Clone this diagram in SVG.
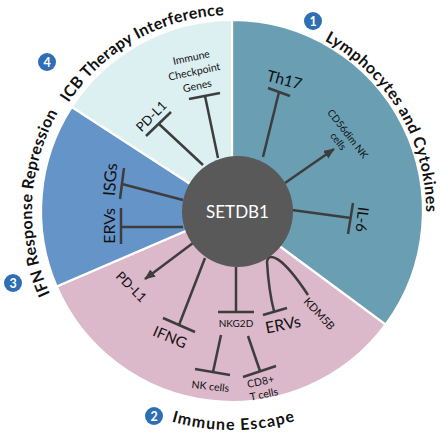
<svg xmlns="http://www.w3.org/2000/svg" width="441" height="433" viewBox="0 0 441 433">
<style>
.sec{stroke:#fff;stroke-width:2.2}
.lbl{font-family:Lato,"Open Sans","Liberation Sans",sans-serif;fill:#111}
.ttl{font-family:Lato,"Open Sans","Liberation Sans",sans-serif;font-weight:bold;font-size:16px;fill:#111}
.num{font-family:Lato,"Open Sans","Liberation Sans",sans-serif;font-weight:bold;font-size:12.5px;fill:#fff}
.badge{fill:#2e6eb5}
</style>
<defs>
<marker id="arrow" markerUnits="userSpaceOnUse" markerWidth="12" markerHeight="10" refX="10" refY="4.5" orient="auto">
<path d="M0,0 L11,4.5 L0,9 Z" fill="#3d3d3d"/>
</marker>
<path id="pLym" d="M324.6,40.5 A194,194 0 0 1 426.0,214.4"/>
<path id="pICB" d="M68.6,102.8 A196,196 0 0 1 225.2,15.1"/>
<path id="pIFN" d="M50.0,293.9 A200,200 0 0 1 58.8,111.0"/>
<path id="pEsc" d="M171.6,421.5 A219,219 0 0 0 297.9,419.9"/>
</defs>
<rect width="441" height="433" fill="#fff"/>
<g id="sectors">
<path id="sector-lymphocytes" class="sec" fill="#6a9eb3" d="M232,211 L232,20 A191,191 0 0 1 385.5,324.6 Z"/>
<path id="sector-escape" class="sec" fill="#dbb8ca" d="M232,211 L385.5,324.6 A191,191 0 0 1 56.6,286.5 Z"/>
<path id="sector-ifn" class="sec" fill="#6594c9" d="M232,211 L56.6,286.5 A191,191 0 0 1 71.8,107 Z"/>
<path id="sector-icb" class="sec" fill="#dceff1" d="M232,211 L71.8,107 A191,191 0 0 1 232,20 Z"/>
</g>
<g id="titles">
<g id="title-1"><circle class="badge" cx="313" cy="21" r="9"/><text class="num" x="313" y="25.5" text-anchor="middle">1</text>
<text class="ttl"><textPath href="#pLym" textLength="209" lengthAdjust="spacing">Lymphocytes and Cytokines</textPath></text></g>
<g id="title-2"><circle class="badge" cx="154" cy="416" r="9"/><text class="num" x="154" y="420.5" text-anchor="middle">2</text>
<text class="ttl"><textPath href="#pEsc" textLength="125" lengthAdjust="spacing">Immune Escape</textPath></text></g>
<g id="title-3"><circle class="badge" cx="13" cy="283" r="9"/><text class="num" x="13" y="287.5" text-anchor="middle">3</text>
<text class="ttl"><textPath href="#pIFN" textLength="188" lengthAdjust="spacing">IFN Response Repression</textPath></text></g>
<g id="title-4"><circle class="badge" cx="47" cy="62" r="9"/><text class="num" x="47" y="66.5" text-anchor="middle">4</text>
<text class="ttl"><textPath href="#pICB" textLength="185" lengthAdjust="spacing">ICB Therapy Interference</textPath></text></g>
</g>
<g id="connectors" stroke="#3d3d3d" stroke-width="2.5" fill="none">
<line x1="263" y1="157" x2="279" y2="92"/><line x1="268" y1="88" x2="290" y2="96"/>
<line x1="285" y1="183" x2="334" y2="149" marker-end="url(#arrow)"/>
<line x1="292" y1="210" x2="351" y2="218"/><line x1="353" y1="203" x2="348" y2="234"/>
<path d="M267,262 C268,252 281,254 308,295"/>
<path d="M267,262 C268,278 270,296 274,311"/><line x1="263" y1="315" x2="287" y2="308"/>
<line x1="236" y1="267" x2="236" y2="312"/><line x1="218" y1="312" x2="254" y2="312"/>
<line x1="221" y1="335" x2="213" y2="372"/><line x1="195" y1="369" x2="230" y2="375"/>
<line x1="248" y1="336" x2="260" y2="371"/><line x1="243" y1="377" x2="276" y2="366"/>
<line x1="205" y1="258" x2="179" y2="325"/><line x1="163" y1="318" x2="195" y2="332"/>
<line x1="193" y1="243" x2="145" y2="279" marker-end="url(#arrow)"/>
<line x1="183" y1="227" x2="121" y2="227"/><line x1="121" y1="208" x2="121" y2="244"/>
<line x1="183" y1="200" x2="122" y2="184"/><line x1="124" y1="168" x2="120" y2="199"/>
<line x1="203" y1="165" x2="159" y2="124"/><line x1="146" y1="136" x2="171" y2="112"/>
<line x1="218" y1="158" x2="205" y2="96"/><line x1="189" y1="99" x2="220" y2="93"/>
</g>
<g id="node-setdb1"><circle cx="237.5" cy="211.5" r="55.5" fill="#595959"/>
<text class="lbl" x="237.5" y="217.5" text-anchor="middle" font-size="17" style="fill:#fff">SETDB1</text></g>
<g id="node-th17"><text class="lbl" font-size="15.5" text-anchor="middle" transform="translate(283,85) rotate(15)">Th17</text></g>
<g id="node-cd56"><text class="lbl" font-size="10" text-anchor="middle" transform="translate(345,136) rotate(52)"><tspan x="0" y="0">CD56dim NK</tspan><tspan x="0" y="12">cells</tspan></text></g>
<g id="node-il6"><text class="lbl" font-size="15" text-anchor="middle" transform="translate(357,219) rotate(96)">IL-6</text></g>
<g id="node-kdm5b"><text class="lbl" font-size="11" transform="translate(303,302) rotate(47)">KDM5B</text></g>
<g id="node-ervs-escape"><text class="lbl" font-size="16" text-anchor="middle" transform="translate(284,330) rotate(-11)">ERVs</text></g>
<g id="node-nkg2d"><text class="lbl" font-size="10" x="236" y="327" text-anchor="middle">NKG2D</text></g>
<g id="node-nkcells"><text class="lbl" font-size="10.5" text-anchor="middle" transform="translate(210,390) rotate(6)">NK cells</text></g>
<g id="node-cd8"><text class="lbl" font-size="10.5" transform="translate(248,388) rotate(-12)"><tspan x="0" y="0">CD8+</tspan><tspan x="0" y="13">T cells</tspan></text></g>
<g id="node-ifng"><text class="lbl" font-size="15" text-anchor="middle" transform="translate(168,342) rotate(23)">IFNG</text></g>
<g id="node-pdl1-escape"><text class="lbl" font-size="13" text-anchor="middle" transform="translate(128,290) rotate(45)">PD-L1</text></g>
<g id="node-ervs-ifn"><text class="lbl" font-size="16" text-anchor="middle" transform="translate(115,226) rotate(-90)">ERVs</text></g>
<g id="node-isgs"><text class="lbl" font-size="16.5" text-anchor="middle" transform="translate(116,180) rotate(-86)">ISGs</text></g>
<g id="node-pdl1-icb"><text class="lbl" font-size="13" text-anchor="middle" transform="translate(154.5,119.5) rotate(-45)">PD-L1</text></g>
<g id="node-checkpoint"><text class="lbl" font-size="10.5" text-anchor="middle" transform="translate(192,61) rotate(-12)"><tspan x="0" y="0">Immune</tspan><tspan x="0" y="14.5">Checkpoint</tspan><tspan x="0" y="29">Genes</tspan></text></g>
</svg>
